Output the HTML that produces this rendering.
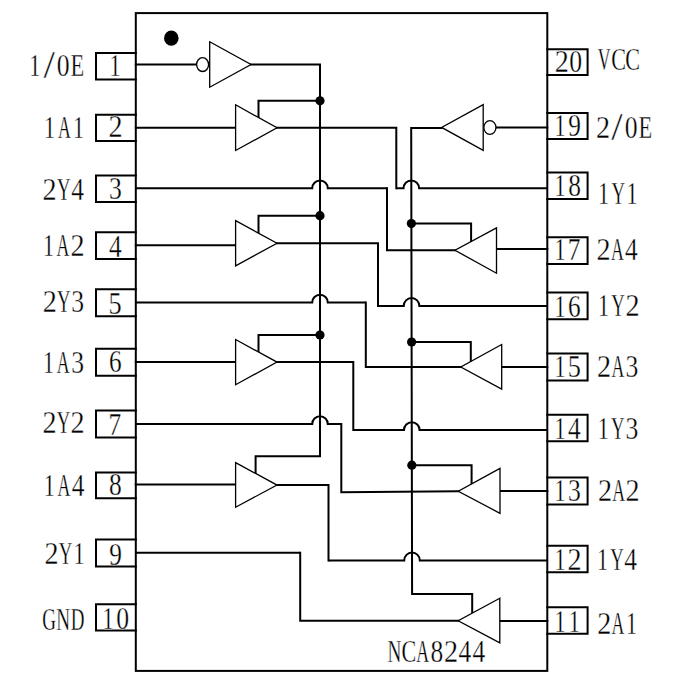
<!DOCTYPE html>
<html><head><meta charset="utf-8"><style>
html,body{margin:0;padding:0;background:#fff;width:694px;height:698px;overflow:hidden}
</style></head><body>
<svg width="694" height="698" viewBox="0 0 694 698" style="display:block">
<rect width="100%" height="100%" fill="#fff"/>
<g style="font-family:'Liberation Serif', serif" fill="#000">
<path d="M135.80,53.10 L96.00,53.10 L96.00,79.60 L135.80,79.60" fill="none" stroke="#000" stroke-width="2.0" stroke-linejoin="miter" stroke-linecap="square"/>
<path d="M135.80,114.70 L96.00,114.70 L96.00,141.00 L135.80,141.00" fill="none" stroke="#000" stroke-width="2.0" stroke-linejoin="miter" stroke-linecap="square"/>
<path d="M135.80,175.60 L96.00,175.60 L96.00,202.00 L135.80,202.00" fill="none" stroke="#000" stroke-width="2.0" stroke-linejoin="miter" stroke-linecap="square"/>
<path d="M135.80,232.30 L96.00,232.30 L96.00,259.10 L135.80,259.10" fill="none" stroke="#000" stroke-width="2.0" stroke-linejoin="miter" stroke-linecap="square"/>
<path d="M135.80,289.20 L96.00,289.20 L96.00,316.30 L135.80,316.30" fill="none" stroke="#000" stroke-width="2.0" stroke-linejoin="miter" stroke-linecap="square"/>
<path d="M135.80,348.80 L96.00,348.80 L96.00,375.70 L135.80,375.70" fill="none" stroke="#000" stroke-width="2.0" stroke-linejoin="miter" stroke-linecap="square"/>
<path d="M135.80,410.60 L96.00,410.60 L96.00,437.40 L135.80,437.40" fill="none" stroke="#000" stroke-width="2.0" stroke-linejoin="miter" stroke-linecap="square"/>
<path d="M135.80,472.50 L96.00,472.50 L96.00,498.30 L135.80,498.30" fill="none" stroke="#000" stroke-width="2.0" stroke-linejoin="miter" stroke-linecap="square"/>
<path d="M135.80,539.50 L96.00,539.50 L96.00,566.60 L135.80,566.60" fill="none" stroke="#000" stroke-width="2.0" stroke-linejoin="miter" stroke-linecap="square"/>
<path d="M135.80,604.20 L96.00,604.20 L96.00,630.50 L135.80,630.50" fill="none" stroke="#000" stroke-width="2.0" stroke-linejoin="miter" stroke-linecap="square"/>
<path d="M547.30,49.20 L587.60,49.20 L587.60,75.00 L547.30,75.00" fill="none" stroke="#000" stroke-width="2.0" stroke-linejoin="miter" stroke-linecap="square"/>
<path d="M547.30,113.00 L587.60,113.00 L587.60,139.00 L547.30,139.00" fill="none" stroke="#000" stroke-width="2.0" stroke-linejoin="miter" stroke-linecap="square"/>
<path d="M547.30,172.60 L587.60,172.60 L587.60,198.90 L547.30,198.90" fill="none" stroke="#000" stroke-width="2.0" stroke-linejoin="miter" stroke-linecap="square"/>
<path d="M547.30,237.20 L587.60,237.20 L587.60,264.00 L547.30,264.00" fill="none" stroke="#000" stroke-width="2.0" stroke-linejoin="miter" stroke-linecap="square"/>
<path d="M547.30,292.40 L587.60,292.40 L587.60,319.20 L547.30,319.20" fill="none" stroke="#000" stroke-width="2.0" stroke-linejoin="miter" stroke-linecap="square"/>
<path d="M547.30,353.60 L587.60,353.60 L587.60,380.40 L547.30,380.40" fill="none" stroke="#000" stroke-width="2.0" stroke-linejoin="miter" stroke-linecap="square"/>
<path d="M547.30,414.70 L587.60,414.70 L587.60,441.30 L547.30,441.30" fill="none" stroke="#000" stroke-width="2.0" stroke-linejoin="miter" stroke-linecap="square"/>
<path d="M547.30,477.50 L587.60,477.50 L587.60,504.40 L547.30,504.40" fill="none" stroke="#000" stroke-width="2.0" stroke-linejoin="miter" stroke-linecap="square"/>
<path d="M547.30,545.70 L587.60,545.70 L587.60,572.30 L547.30,572.30" fill="none" stroke="#000" stroke-width="2.0" stroke-linejoin="miter" stroke-linecap="square"/>
<path d="M547.30,607.20 L587.60,607.20 L587.60,633.80 L547.30,633.80" fill="none" stroke="#000" stroke-width="2.0" stroke-linejoin="miter" stroke-linecap="square"/>
<rect x="135.8" y="13.1" width="411.50" height="657.80" fill="none" stroke="#000" stroke-width="2.0"/>
<ellipse cx="171.3" cy="38.2" rx="7.25" ry="7.6" fill="#000"/>
<path d="M135.80,64.50 L196.00,64.50" fill="none" stroke="#000" stroke-width="2.0" stroke-linejoin="miter" stroke-linecap="square"/>
<ellipse cx="202.6" cy="64.6" rx="6.0" ry="6.9" fill="#fff" stroke="#000" stroke-width="1.3"/>
<path d="M209.7,41.8 L251.0,64.5 L209.7,87.2 Z" fill="#fff" stroke="#000" stroke-width="1.3" stroke-linejoin="miter"/>
<path d="M251.00,64.50 L320.00,64.50 L320.00,456.30 L255.60,456.30 L255.60,473.50" fill="none" stroke="#000" stroke-width="2.0" stroke-linejoin="miter" stroke-linecap="square"/>
<path d="M547.30,127.60 L496.50,127.60" fill="none" stroke="#000" stroke-width="2.0" stroke-linejoin="miter" stroke-linecap="square"/>
<ellipse cx="489.9" cy="127.5" rx="6.05" ry="6.9" fill="#fff" stroke="#000" stroke-width="1.3"/>
<path d="M483.2,104.6 L441.6,127.4 L483.2,150.4 Z" fill="#fff" stroke="#000" stroke-width="1.3" stroke-linejoin="miter"/>
<path d="M441.60,127.90 L411.20,127.90 L412.09,594.00 L472.20,594.00 L472.20,612.50" fill="none" stroke="#000" stroke-width="2.0" stroke-linejoin="miter" stroke-linecap="square"/>
<path d="M135.80,127.80 L235.60,127.80" fill="none" stroke="#000" stroke-width="2.0" stroke-linejoin="miter" stroke-linecap="square"/>
<path d="M277.00,127.80 L396.30,127.80 L396.30,188.20" fill="none" stroke="#000" stroke-width="2.0" stroke-linejoin="miter" stroke-linecap="square"/>
<path d="M396.30,188.20 L403.51,188.20 A7.8,7.8 0 0 1 419.11,188.20 L547.30,188.20" fill="none" stroke="#000" stroke-width="2.0" stroke-linecap="butt"/>
<path d="M320.00,100.80 L258.50,100.80 L258.50,118.52" fill="none" stroke="#000" stroke-width="2.0" stroke-linejoin="miter" stroke-linecap="square"/>
<circle cx="320.0" cy="100.8" r="4.6" fill="#000"/>
<path d="M135.80,245.30 L235.60,245.30" fill="none" stroke="#000" stroke-width="2.0" stroke-linejoin="miter" stroke-linecap="square"/>
<path d="M277.00,243.20 L378.00,243.20 L378.00,305.90" fill="none" stroke="#000" stroke-width="2.0" stroke-linejoin="miter" stroke-linecap="square"/>
<path d="M378.00,305.90 L403.74,305.90 A7.8,7.8 0 0 1 419.34,305.90 L547.30,305.90" fill="none" stroke="#000" stroke-width="2.0" stroke-linecap="butt"/>
<path d="M320.00,215.70 L258.50,215.70 L258.50,234.10" fill="none" stroke="#000" stroke-width="2.0" stroke-linejoin="miter" stroke-linecap="square"/>
<circle cx="320.0" cy="215.7" r="4.6" fill="#000"/>
<path d="M135.80,361.90 L235.60,361.90" fill="none" stroke="#000" stroke-width="2.0" stroke-linejoin="miter" stroke-linecap="square"/>
<path d="M277.00,362.10 L353.30,362.10 L353.30,430.00" fill="none" stroke="#000" stroke-width="2.0" stroke-linejoin="miter" stroke-linecap="square"/>
<path d="M353.30,430.00 L403.97,430.00 A7.8,7.8 0 0 1 419.57,430.00 L547.30,430.00" fill="none" stroke="#000" stroke-width="2.0" stroke-linecap="butt"/>
<path d="M320.00,335.00 L258.50,335.00 L258.50,353.00" fill="none" stroke="#000" stroke-width="2.0" stroke-linejoin="miter" stroke-linecap="square"/>
<circle cx="320.0" cy="335.0" r="4.6" fill="#000"/>
<path d="M135.80,484.50 L235.60,484.50" fill="none" stroke="#000" stroke-width="2.0" stroke-linejoin="miter" stroke-linecap="square"/>
<path d="M277.00,485.10 L328.50,485.10 L328.50,560.40" fill="none" stroke="#000" stroke-width="2.0" stroke-linejoin="miter" stroke-linecap="square"/>
<path d="M328.50,560.40 L404.22,560.40 A7.8,7.8 0 0 1 419.82,560.40 L547.30,560.40" fill="none" stroke="#000" stroke-width="2.0" stroke-linecap="butt"/>
<path d="M235.6,104.8 L277.0,127.8 L235.6,150.5 Z" fill="#fff" stroke="#000" stroke-width="1.3" stroke-linejoin="miter"/>
<path d="M235.6,220.6 L277.0,243.2 L235.6,265.8 Z" fill="#fff" stroke="#000" stroke-width="1.3" stroke-linejoin="miter"/>
<path d="M235.6,339.5 L277.0,362.1 L235.6,384.7 Z" fill="#fff" stroke="#000" stroke-width="1.3" stroke-linejoin="miter"/>
<path d="M235.6,462.6 L277.0,485.1 L235.6,507.2 Z" fill="#fff" stroke="#000" stroke-width="1.3" stroke-linejoin="miter"/>
<path d="M547.30,249.00 L496.50,249.00" fill="none" stroke="#000" stroke-width="2.0" stroke-linejoin="miter" stroke-linecap="square"/>
<path d="M455.00,250.30 L387.00,250.30 L387.00,188.20" fill="none" stroke="#000" stroke-width="2.0" stroke-linejoin="miter" stroke-linecap="square"/>
<path d="M135.80,188.20 L312.20,188.20 A7.8,7.8 0 0 1 327.80,188.20 L387.00,188.20" fill="none" stroke="#000" stroke-width="2.0" stroke-linecap="butt"/>
<path d="M411.38,223.50 L471.10,223.50 L471.10,242.61" fill="none" stroke="#000" stroke-width="2.0" stroke-linejoin="miter" stroke-linecap="square"/>
<circle cx="411.38145" cy="223.5" r="4.6" fill="#000"/>
<path d="M547.30,367.00 L501.70,367.00" fill="none" stroke="#000" stroke-width="2.0" stroke-linejoin="miter" stroke-linecap="square"/>
<path d="M460.80,367.00 L365.80,367.00 L365.80,302.50" fill="none" stroke="#000" stroke-width="2.0" stroke-linejoin="miter" stroke-linecap="square"/>
<path d="M135.80,302.50 L312.20,302.50 A7.8,7.8 0 0 1 327.80,302.50 L365.80,302.50" fill="none" stroke="#000" stroke-width="2.0" stroke-linecap="butt"/>
<path d="M411.61,342.00 L470.80,342.00 L470.80,362.50" fill="none" stroke="#000" stroke-width="2.0" stroke-linejoin="miter" stroke-linecap="square"/>
<circle cx="411.6066" cy="342.0" r="4.6" fill="#000"/>
<path d="M547.30,491.00 L500.00,491.00" fill="none" stroke="#000" stroke-width="2.0" stroke-linejoin="miter" stroke-linecap="square"/>
<path d="M458.30,491.20 L341.30,492.30 L341.30,424.00" fill="none" stroke="#000" stroke-width="2.0" stroke-linejoin="miter" stroke-linecap="square"/>
<path d="M135.80,424.00 L312.20,424.00 A7.8,7.8 0 0 1 327.80,424.00 L341.30,424.00" fill="none" stroke="#000" stroke-width="2.0" stroke-linecap="butt"/>
<path d="M411.84,465.20 L471.60,465.20 L471.60,484.93" fill="none" stroke="#000" stroke-width="2.0" stroke-linejoin="miter" stroke-linecap="square"/>
<circle cx="411.84067999999996" cy="465.2" r="4.6" fill="#000"/>
<path d="M547.30,621.00 L499.80,621.00" fill="none" stroke="#000" stroke-width="2.0" stroke-linejoin="miter" stroke-linecap="square"/>
<path d="M458.20,620.80 L300.20,620.80 L300.20,552.80" fill="none" stroke="#000" stroke-width="2.0" stroke-linejoin="miter" stroke-linecap="square"/>
<path d="M135.80,552.80 L300.20,552.80" fill="none" stroke="#000" stroke-width="2.0" stroke-linecap="butt"/>
<path d="M496.5,227.9 L455.0,250.3 L496.5,273.2 Z" fill="#fff" stroke="#000" stroke-width="1.3" stroke-linejoin="miter"/>
<path d="M501.7,344.5 L460.8,367.0 L501.7,389.1 Z" fill="#fff" stroke="#000" stroke-width="1.3" stroke-linejoin="miter"/>
<path d="M500.0,468.4 L458.3,491.2 L500.0,513.3 Z" fill="#fff" stroke="#000" stroke-width="1.3" stroke-linejoin="miter"/>
<path d="M499.8,598.2 L458.2,620.8 L499.8,642.8 Z" fill="#fff" stroke="#000" stroke-width="1.3" stroke-linejoin="miter"/>
<text transform="translate(35.10,75.80) scale(0.7147,1.0000)" x="-8.18" y="0" font-size="31" stroke="#fff" stroke-width="0.3">1</text>
<text transform="translate(49.13,78.40) scale(1.3236,1.2600)" x="-4.31" y="0" font-size="31" stroke="#fff" stroke-width="0.3">/</text>
<text transform="translate(63.17,75.80) scale(0.8296,1.0000)" x="-7.75" y="0" font-size="31" stroke="#fff" stroke-width="0.3">0</text>
<text transform="translate(77.20,75.80) scale(0.7213,1.0000)" x="-9.14" y="0" font-size="31" stroke="#fff" stroke-width="0.3">E</text>
<text transform="translate(49.95,137.70) scale(0.7147,1.0000)" x="-8.18" y="0" font-size="31" stroke="#fff" stroke-width="0.3">1</text>
<text transform="translate(64.35,137.70) scale(0.5719,1.0000)" x="-11.23" y="0" font-size="31" stroke="#fff" stroke-width="0.3">A</text>
<text transform="translate(78.75,137.70) scale(0.7147,1.0000)" x="-8.18" y="0" font-size="31" stroke="#fff" stroke-width="0.3">1</text>
<text transform="translate(49.40,199.90) scale(0.9093,1.0000)" x="-7.58" y="0" font-size="31" stroke="#fff" stroke-width="0.3">2</text>
<text transform="translate(63.58,199.90) scale(0.6070,1.0000)" x="-10.97" y="0" font-size="31" stroke="#fff" stroke-width="0.3">Y</text>
<text transform="translate(77.75,199.90) scale(0.8189,1.0000)" x="-7.81" y="0" font-size="31" stroke="#fff" stroke-width="0.3">4</text>
<text transform="translate(48.75,256.00) scale(0.7147,1.0000)" x="-8.18" y="0" font-size="31" stroke="#fff" stroke-width="0.3">1</text>
<text transform="translate(63.02,256.00) scale(0.5719,1.0000)" x="-11.23" y="0" font-size="31" stroke="#fff" stroke-width="0.3">A</text>
<text transform="translate(77.30,256.00) scale(0.9093,1.0000)" x="-7.58" y="0" font-size="31" stroke="#fff" stroke-width="0.3">2</text>
<text transform="translate(49.60,311.80) scale(0.9093,1.0000)" x="-7.58" y="0" font-size="31" stroke="#fff" stroke-width="0.3">2</text>
<text transform="translate(63.67,311.80) scale(0.6070,1.0000)" x="-10.97" y="0" font-size="31" stroke="#fff" stroke-width="0.3">Y</text>
<text transform="translate(77.75,311.80) scale(0.8278,1.0000)" x="-7.89" y="0" font-size="31" stroke="#fff" stroke-width="0.3">3</text>
<text transform="translate(48.75,373.30) scale(0.7147,1.0000)" x="-8.18" y="0" font-size="31" stroke="#fff" stroke-width="0.3">1</text>
<text transform="translate(63.20,373.30) scale(0.5719,1.0000)" x="-11.23" y="0" font-size="31" stroke="#fff" stroke-width="0.3">A</text>
<text transform="translate(77.65,373.30) scale(0.8278,1.0000)" x="-7.89" y="0" font-size="31" stroke="#fff" stroke-width="0.3">3</text>
<text transform="translate(49.40,433.40) scale(0.9093,1.0000)" x="-7.58" y="0" font-size="31" stroke="#fff" stroke-width="0.3">2</text>
<text transform="translate(63.35,433.40) scale(0.6070,1.0000)" x="-10.97" y="0" font-size="31" stroke="#fff" stroke-width="0.3">Y</text>
<text transform="translate(77.30,433.40) scale(0.9093,1.0000)" x="-7.58" y="0" font-size="31" stroke="#fff" stroke-width="0.3">2</text>
<text transform="translate(49.55,496.20) scale(0.7147,1.0000)" x="-8.18" y="0" font-size="31" stroke="#fff" stroke-width="0.3">1</text>
<text transform="translate(63.85,496.20) scale(0.5719,1.0000)" x="-11.23" y="0" font-size="31" stroke="#fff" stroke-width="0.3">A</text>
<text transform="translate(78.15,496.20) scale(0.8189,1.0000)" x="-7.81" y="0" font-size="31" stroke="#fff" stroke-width="0.3">4</text>
<text transform="translate(51.30,563.80) scale(0.9093,1.0000)" x="-7.58" y="0" font-size="31" stroke="#fff" stroke-width="0.3">2</text>
<text transform="translate(65.38,563.80) scale(0.6070,1.0000)" x="-10.97" y="0" font-size="31" stroke="#fff" stroke-width="0.3">Y</text>
<text transform="translate(79.45,563.80) scale(0.7147,1.0000)" x="-8.18" y="0" font-size="31" stroke="#fff" stroke-width="0.3">1</text>
<text transform="translate(49.20,629.80) scale(0.6155,1.0000)" x="-11.34" y="0" font-size="31" stroke="#fff" stroke-width="0.3">G</text>
<text transform="translate(63.33,629.80) scale(0.6207,1.0000)" x="-11.28" y="0" font-size="31" stroke="#fff" stroke-width="0.3">N</text>
<text transform="translate(77.45,629.80) scale(0.6123,1.0000)" x="-11.02" y="0" font-size="31" stroke="#fff" stroke-width="0.3">D</text>
<text transform="translate(604.15,70.30) scale(0.5717,1.0000)" x="-11.19" y="0" font-size="31" stroke="#fff" stroke-width="0.3">V</text>
<text transform="translate(618.35,70.30) scale(0.7121,1.0000)" x="-10.12" y="0" font-size="31" stroke="#fff" stroke-width="0.3">C</text>
<text transform="translate(632.55,70.30) scale(0.7121,1.0000)" x="-10.12" y="0" font-size="31" stroke="#fff" stroke-width="0.3">C</text>
<text transform="translate(602.90,137.80) scale(0.9093,1.0000)" x="-7.58" y="0" font-size="31" stroke="#fff" stroke-width="0.3">2</text>
<text transform="translate(617.00,140.40) scale(1.3236,1.2600)" x="-4.31" y="0" font-size="31" stroke="#fff" stroke-width="0.3">/</text>
<text transform="translate(631.10,137.80) scale(0.8296,1.0000)" x="-7.75" y="0" font-size="31" stroke="#fff" stroke-width="0.3">0</text>
<text transform="translate(645.20,137.80) scale(0.7213,1.0000)" x="-9.14" y="0" font-size="31" stroke="#fff" stroke-width="0.3">E</text>
<text transform="translate(603.95,204.00) scale(0.7147,1.0000)" x="-8.18" y="0" font-size="31" stroke="#fff" stroke-width="0.3">1</text>
<text transform="translate(618.20,204.00) scale(0.6070,1.0000)" x="-10.97" y="0" font-size="31" stroke="#fff" stroke-width="0.3">Y</text>
<text transform="translate(632.45,204.00) scale(0.7147,1.0000)" x="-8.18" y="0" font-size="31" stroke="#fff" stroke-width="0.3">1</text>
<text transform="translate(603.50,260.10) scale(0.9093,1.0000)" x="-7.58" y="0" font-size="31" stroke="#fff" stroke-width="0.3">2</text>
<text transform="translate(617.48,260.10) scale(0.5719,1.0000)" x="-11.23" y="0" font-size="31" stroke="#fff" stroke-width="0.3">A</text>
<text transform="translate(631.45,260.10) scale(0.8189,1.0000)" x="-7.81" y="0" font-size="31" stroke="#fff" stroke-width="0.3">4</text>
<text transform="translate(603.75,316.30) scale(0.7147,1.0000)" x="-8.18" y="0" font-size="31" stroke="#fff" stroke-width="0.3">1</text>
<text transform="translate(618.02,316.30) scale(0.6070,1.0000)" x="-10.97" y="0" font-size="31" stroke="#fff" stroke-width="0.3">Y</text>
<text transform="translate(632.30,316.30) scale(0.9093,1.0000)" x="-7.58" y="0" font-size="31" stroke="#fff" stroke-width="0.3">2</text>
<text transform="translate(603.90,376.70) scale(0.9093,1.0000)" x="-7.58" y="0" font-size="31" stroke="#fff" stroke-width="0.3">2</text>
<text transform="translate(617.92,376.70) scale(0.5719,1.0000)" x="-11.23" y="0" font-size="31" stroke="#fff" stroke-width="0.3">A</text>
<text transform="translate(631.95,376.70) scale(0.8278,1.0000)" x="-7.89" y="0" font-size="31" stroke="#fff" stroke-width="0.3">3</text>
<text transform="translate(603.55,438.80) scale(0.7147,1.0000)" x="-8.18" y="0" font-size="31" stroke="#fff" stroke-width="0.3">1</text>
<text transform="translate(617.75,438.80) scale(0.6070,1.0000)" x="-10.97" y="0" font-size="31" stroke="#fff" stroke-width="0.3">Y</text>
<text transform="translate(631.95,438.80) scale(0.8278,1.0000)" x="-7.89" y="0" font-size="31" stroke="#fff" stroke-width="0.3">3</text>
<text transform="translate(604.80,501.20) scale(0.9093,1.0000)" x="-7.58" y="0" font-size="31" stroke="#fff" stroke-width="0.3">2</text>
<text transform="translate(618.55,501.20) scale(0.5719,1.0000)" x="-11.23" y="0" font-size="31" stroke="#fff" stroke-width="0.3">A</text>
<text transform="translate(632.30,501.20) scale(0.9093,1.0000)" x="-7.58" y="0" font-size="31" stroke="#fff" stroke-width="0.3">2</text>
<text transform="translate(602.95,570.10) scale(0.7147,1.0000)" x="-8.18" y="0" font-size="31" stroke="#fff" stroke-width="0.3">1</text>
<text transform="translate(616.85,570.10) scale(0.6070,1.0000)" x="-10.97" y="0" font-size="31" stroke="#fff" stroke-width="0.3">Y</text>
<text transform="translate(630.75,570.10) scale(0.8189,1.0000)" x="-7.81" y="0" font-size="31" stroke="#fff" stroke-width="0.3">4</text>
<text transform="translate(604.10,634.00) scale(0.9093,1.0000)" x="-7.58" y="0" font-size="31" stroke="#fff" stroke-width="0.3">2</text>
<text transform="translate(617.98,634.00) scale(0.5719,1.0000)" x="-11.23" y="0" font-size="31" stroke="#fff" stroke-width="0.3">A</text>
<text transform="translate(631.85,634.00) scale(0.7147,1.0000)" x="-8.18" y="0" font-size="31" stroke="#fff" stroke-width="0.3">1</text>
<text transform="translate(115.40,75.80) scale(0.7147,1.0000)" x="-8.18" y="0" font-size="31" stroke="#fff" stroke-width="0.3">1</text>
<text transform="translate(115.40,136.90) scale(0.9093,1.0000)" x="-7.58" y="0" font-size="31" stroke="#fff" stroke-width="0.3">2</text>
<text transform="translate(115.40,198.80) scale(0.8278,1.0000)" x="-7.89" y="0" font-size="31" stroke="#fff" stroke-width="0.3">3</text>
<text transform="translate(115.40,256.70) scale(0.8189,1.0000)" x="-7.81" y="0" font-size="31" stroke="#fff" stroke-width="0.3">4</text>
<text transform="translate(115.40,313.70) scale(0.8488,1.0000)" x="-8.05" y="0" font-size="31" stroke="#fff" stroke-width="0.3">5</text>
<text transform="translate(115.40,372.40) scale(0.8154,1.0000)" x="-7.95" y="0" font-size="31" stroke="#fff" stroke-width="0.3">6</text>
<text transform="translate(115.40,435.00) scale(0.8198,1.0000)" x="-8.33" y="0" font-size="31" stroke="#fff" stroke-width="0.3">7</text>
<text transform="translate(115.40,495.30) scale(0.8220,1.0000)" x="-7.75" y="0" font-size="31" stroke="#fff" stroke-width="0.3">8</text>
<text transform="translate(115.40,565.00) scale(0.8164,1.0000)" x="-7.61" y="0" font-size="31" stroke="#fff" stroke-width="0.3">9</text>
<text transform="translate(108.30,628.80) scale(0.7147,1.0000)" x="-8.18" y="0" font-size="31" stroke="#fff" stroke-width="0.3">1</text>
<text transform="translate(122.70,628.80) scale(0.8296,1.0000)" x="-7.75" y="0" font-size="31" stroke="#fff" stroke-width="0.3">0</text>
<text transform="translate(561.60,72.20) scale(0.9093,1.0000)" x="-7.58" y="0" font-size="31" stroke="#fff" stroke-width="0.3">2</text>
<text transform="translate(575.60,72.20) scale(0.8296,1.0000)" x="-7.75" y="0" font-size="31" stroke="#fff" stroke-width="0.3">0</text>
<text transform="translate(560.40,136.00) scale(0.7147,1.0000)" x="-8.18" y="0" font-size="31" stroke="#fff" stroke-width="0.3">1</text>
<text transform="translate(574.50,136.00) scale(0.8164,1.0000)" x="-7.61" y="0" font-size="31" stroke="#fff" stroke-width="0.3">9</text>
<text transform="translate(560.40,195.80) scale(0.7147,1.0000)" x="-8.18" y="0" font-size="31" stroke="#fff" stroke-width="0.3">1</text>
<text transform="translate(574.50,195.80) scale(0.8220,1.0000)" x="-7.75" y="0" font-size="31" stroke="#fff" stroke-width="0.3">8</text>
<text transform="translate(560.40,260.30) scale(0.7147,1.0000)" x="-8.18" y="0" font-size="31" stroke="#fff" stroke-width="0.3">1</text>
<text transform="translate(574.50,260.30) scale(0.8198,1.0000)" x="-8.33" y="0" font-size="31" stroke="#fff" stroke-width="0.3">7</text>
<text transform="translate(560.40,316.50) scale(0.7147,1.0000)" x="-8.18" y="0" font-size="31" stroke="#fff" stroke-width="0.3">1</text>
<text transform="translate(574.50,316.50) scale(0.8154,1.0000)" x="-7.95" y="0" font-size="31" stroke="#fff" stroke-width="0.3">6</text>
<text transform="translate(560.40,376.70) scale(0.7147,1.0000)" x="-8.18" y="0" font-size="31" stroke="#fff" stroke-width="0.3">1</text>
<text transform="translate(574.50,376.70) scale(0.8488,1.0000)" x="-8.05" y="0" font-size="31" stroke="#fff" stroke-width="0.3">5</text>
<text transform="translate(560.40,438.70) scale(0.7147,1.0000)" x="-8.18" y="0" font-size="31" stroke="#fff" stroke-width="0.3">1</text>
<text transform="translate(574.50,438.70) scale(0.8189,1.0000)" x="-7.81" y="0" font-size="31" stroke="#fff" stroke-width="0.3">4</text>
<text transform="translate(560.40,501.00) scale(0.7147,1.0000)" x="-8.18" y="0" font-size="31" stroke="#fff" stroke-width="0.3">1</text>
<text transform="translate(574.50,501.00) scale(0.8278,1.0000)" x="-7.89" y="0" font-size="31" stroke="#fff" stroke-width="0.3">3</text>
<text transform="translate(560.40,570.10) scale(0.7147,1.0000)" x="-8.18" y="0" font-size="31" stroke="#fff" stroke-width="0.3">1</text>
<text transform="translate(574.50,570.10) scale(0.9093,1.0000)" x="-7.58" y="0" font-size="31" stroke="#fff" stroke-width="0.3">2</text>
<text transform="translate(560.40,631.70) scale(0.7147,1.0000)" x="-8.18" y="0" font-size="31" stroke="#fff" stroke-width="0.3">1</text>
<text transform="translate(574.50,631.70) scale(0.7147,1.0000)" x="-8.18" y="0" font-size="31" stroke="#fff" stroke-width="0.3">1</text>
<text transform="translate(394.60,662.00) scale(0.6207,1.0000)" x="-11.28" y="0" font-size="31" stroke="#fff" stroke-width="0.3">N</text>
<text transform="translate(408.66,662.00) scale(0.7121,1.0000)" x="-10.12" y="0" font-size="31" stroke="#fff" stroke-width="0.3">C</text>
<text transform="translate(422.72,662.00) scale(0.5719,1.0000)" x="-11.23" y="0" font-size="31" stroke="#fff" stroke-width="0.3">A</text>
<text transform="translate(436.78,662.00) scale(0.8220,1.0000)" x="-7.75" y="0" font-size="31" stroke="#fff" stroke-width="0.3">8</text>
<text transform="translate(450.83,662.00) scale(0.9093,1.0000)" x="-7.58" y="0" font-size="31" stroke="#fff" stroke-width="0.3">2</text>
<text transform="translate(464.89,662.00) scale(0.8189,1.0000)" x="-7.81" y="0" font-size="31" stroke="#fff" stroke-width="0.3">4</text>
<text transform="translate(478.95,662.00) scale(0.8189,1.0000)" x="-7.81" y="0" font-size="31" stroke="#fff" stroke-width="0.3">4</text>
</g></svg>
</body></html>
